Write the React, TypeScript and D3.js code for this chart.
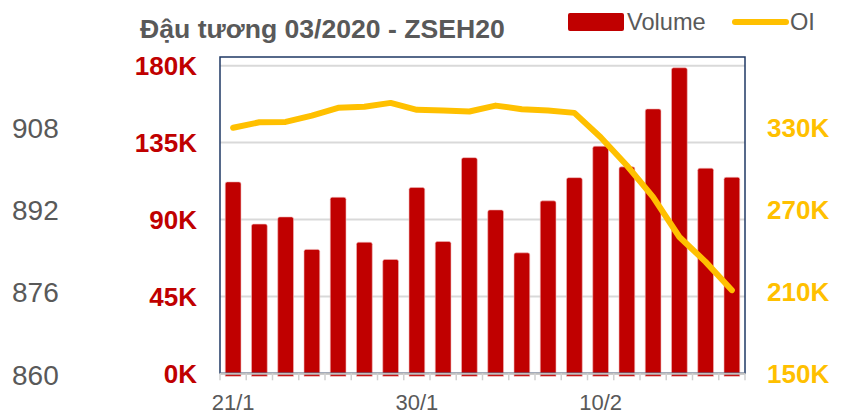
import React from 'react'
import * as d3 from 'd3'

// trading days, Jan 21 -> Feb 18
const dates = ['21/1', '22/1', '23/1', '24/1', '27/1', '28/1', '29/1', '30/1', '31/1', '3/2',
  '4/2', '5/2', '6/2', '7/2', '10/2', '11/2', '12/2', '13/2', '14/2', '18/2']
const shownDates = ['21/1', '30/1', '10/2']

const volume = [112000, 87300, 91500, 72500, 103000, 76700, 66600, 108700, 77100, 126200,
  95600, 70500, 100900, 114500, 132900, 120800, 154700, 178800, 120000, 114700]
const oi = [329600, 333600, 333900, 338500, 344200, 345000, 347800, 342700, 342200, 341500,
  345800, 343200, 342200, 340500, 322700, 302000, 278900, 249700, 231500, 210800]

const volTicks = [0, 45000, 90000, 135000, 180000]
const oiTicks = [150000, 210000, 270000, 330000]
const priceTicks = [860, 876, 892, 908]

const W = 847
const H = 416
const left = 220
const right = 745
const top = 57
const bottom = 373.3

const RED = '#C00000'
const GOLD = '#FFC000'
const GREY = '#595959'
const FONT = '"Liberation Sans", Arial, sans-serif'

const App = () => {
  const x = d3.scaleBand().domain(dates).range([left, right]).paddingInner(0.4).paddingOuter(0.2)
  const yVol = d3.scaleLinear().domain([0, 180000]).range([bottom, 65.7])
  const yOi = d3.scaleLinear().domain([150000, 375000]).range([bottom, 65.7])
  const yPrice = d3.scaleLinear().domain([860, 920]).range([bottom + 1.5, 65.7])

  const cx = (d: string) => (x(d) ?? 0) + x.bandwidth() / 2
  const line = d3.line<number>()
    .x((d, i) => cx(dates[i]))
    .y(d => yOi(d))
    .curve(d3.curveLinear)

  const fmtK = (v: number) => `${Math.round(v / 1000)}K`

  // bar with slightly rounded top corners, sitting a little below the axis
  const barPath = (d: string, v: number) => {
    const x0 = x(d) ?? 0
    const w = x.bandwidth()
    const y0 = yVol(v)
    const y1 = bottom + 3
    const r = 2
    return `M${x0},${y1}V${y0 + r}Q${x0},${y0} ${x0 + r},${y0}H${x0 + w - r}Q${x0 + w},${y0} ${x0 + w},${y0 + r}V${y1}Z`
  }

  const step = x.step()
  const boundaries = d3.range(dates.length + 1).map(i => left + i * step)

  return (
    <svg width={W} height={H} style={{ position: 'absolute', left: 0, top: 0, background: '#fff' }}
      fontFamily={FONT}>
      <text x={140} y={38} fontSize={26.6} fontWeight="bold" fill={GREY}>Đậu tương 03/2020 - ZSEH20</text>

      {/* legend */}
      <rect x={568} y={13} width={56} height={18} rx={2} fill={RED} />
      <text x={627} y={30} fontSize={23.6} fill={GREY}>Volume</text>
      <line x1={735} x2={786} y1={22} y2={22} stroke={GOLD} strokeWidth={6} strokeLinecap="round" />
      <text x={790} y={30} fontSize={23.6} fill={GREY}>OI</text>

      {/* gridlines */}
      {volTicks.filter(t => t > 0).map(t => (
        <line key={t} x1={left} x2={right} y1={yVol(t)} y2={yVol(t)} stroke="#D9D9D9" strokeWidth={2} />
      ))}

      {/* bars */}
      {dates.map((d, i) => (
        <path key={d} d={barPath(d, volume[i])} fill={RED} stroke="#F2B8B8" strokeWidth={0.6} />
      ))}

      {/* frame */}
      <rect x={left} y={top} width={right - left} height={bottom - top} fill="none" stroke="#1F3864" strokeWidth={1.5} />

      {/* category axis */}
      <line x1={left} x2={right} y1={bottom + 0.5} y2={bottom + 0.5} stroke="#BFBFBF" strokeWidth={2} />
      {boundaries.map((b, i) => (
        <line key={i} x1={b} x2={b} y1={bottom} y2={bottom + 7} stroke="#D0D0D0" strokeWidth={1.5} />
      ))}
      {shownDates.map(d => (
        <text key={d} x={cx(d)} y={410} fontSize={22} fill={GREY} textAnchor="middle">{d}</text>
      ))}

      {/* OI line */}
      <path d={line(oi) ?? ''} fill="none" stroke={GOLD} strokeWidth={6} strokeLinejoin="round" strokeLinecap="round" />

      {/* left volume axis */}
      {volTicks.map(t => (
        <text key={t} x={197} y={yVol(t)} dy="0.36em" fontSize={26} fontWeight="bold" fill={RED} textAnchor="end">{fmtK(t)}</text>
      ))}

      {/* right OI axis */}
      {oiTicks.map(t => (
        <text key={t} x={767} y={yOi(t)} dy="0.36em" fontSize={26} fontWeight="bold" fill={GOLD}>{fmtK(t)}</text>
      ))}

      {/* far left price axis */}
      {priceTicks.map(t => (
        <text key={t} x={12} y={yPrice(t)} dy="0.36em" fontSize={28} fill={GREY}>{t}</text>
      ))}
    </svg>
  )
}

export default App
